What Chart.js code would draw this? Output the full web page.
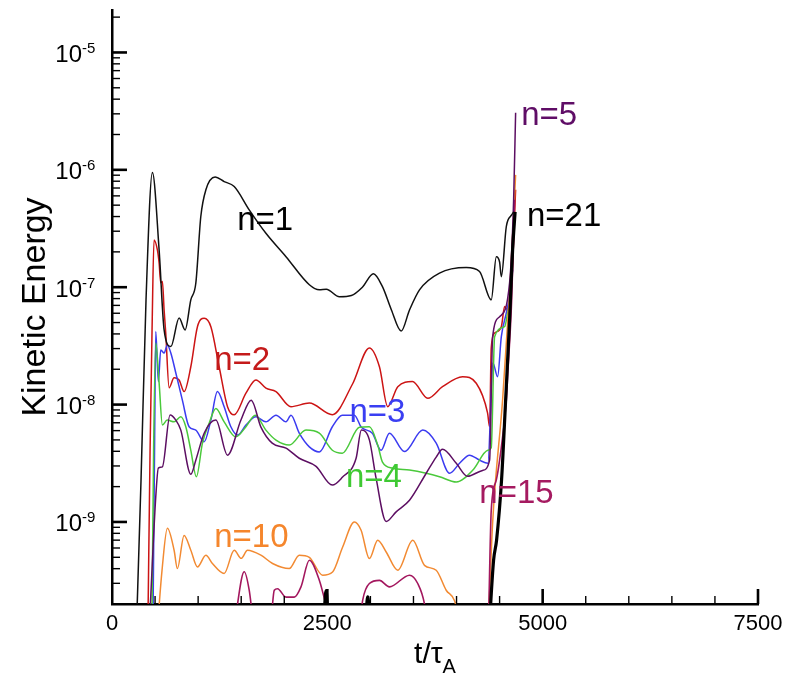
<!DOCTYPE html>
<html><head><meta charset="utf-8">
<script src="https://cdn.jsdelivr.net/npm/chart.js@4.4.1/dist/chart.umd.min.js"></script>
<style>html,body{margin:0;padding:0;background:#fff;overflow:hidden}</style>
</head><body>
<canvas id="c" width="799" height="676"></canvas>
<script>
// ---- data (t / tau_A, kinetic energy) ----
const n1T = [280,337,395,469,547,605,683,779,849,915,973,1031,1090,1198,1302,1419,1593,1787,2020,2291,2407,2488,2640,2779,2907,3035,3140,3244,3357,3454,3570,3802,4113,4267,4403,4462,4500,4520,4578,4640,4663];
const n1E = [1e-10,2.28e-9,7.8e-8,9.5e-7,2.08e-7,4.33e-8,3.12e-8,5.47e-8,4.33e-8,7.8e-8,1.08e-7,4.0e-7,6.76e-7,8.67e-7,7.94e-7,7.21e-7,4.56e-7,2.88e-7,1.82e-7,1.05e-7,9.5e-8,9.6e-8,8.3e-8,8.5e-8,1.0e-7,1.3e-7,1.01e-7,6.4e-8,4.23e-8,6.4e-8,9.5e-8,1.32e-7,1.47e-7,1.36e-7,7.8e-8,1.82e-7,1.64e-7,1.23e-7,3.29e-7,4.13e-7,4.38e-7];

const n2T = [419,442,465,488,527,547,566,585,605,624,663,721,779,837,915,992,1070,1148,1244,1341,1419,1555,1671,1787,1904,2078,2291,2558,2791,2988,3105,3201,3318,3488,3666,3837,4070,4229,4360,4384,4403,4442,4520,4558,4593,4636,4686];
const n2E = [1.77e-10,4.1e-9,4.33e-8,2.53e-7,2.08e-7,1.61e-7,1.09e-7,1.12e-7,6.4e-8,4.07e-8,1.39e-8,1.69e-8,1.62e-8,1.29e-8,2.1e-8,4.61e-8,5.44e-8,4.61e-8,2.1e-8,9.6e-9,8.18e-9,1.25e-8,1.62e-8,1.38e-8,1.29e-8,9.6e-9,1.03e-8,8.2e-9,1.49e-8,3.04e-8,2.1e-8,9.6e-9,1.42e-8,1.57e-8,1.13e-8,1.42e-8,1.73e-8,1.52e-8,8.5e-9,6.46e-9,3.04e-8,4.07e-8,4.61e-8,6.84e-8,6.4e-8,9.5e-8,6.76e-7];

const n3T = [477,494,508,538,566,605,643,683,741,817,895,973,1070,1148,1224,1302,1380,1457,1555,1671,1787,1904,2020,2078,2174,2291,2407,2558,2674,2814,2895,3023,3124,3221,3396,3608,3764,3919,4035,4151,4267,4364,4422,4477,4520,4578,4628,4651];
const n3E = [1.77e-10,4.1e-9,4.19e-8,1.57e-8,2.92e-8,2.75e-8,3.22e-8,2.75e-8,1.86e-8,1.09e-8,6.47e-9,6.06e-9,4.82e-9,7.38e-9,1.29e-8,9.58e-9,6.47e-9,5.5e-9,6.68e-9,7.87e-9,7.13e-9,8.13e-9,7.13e-9,8.13e-9,5.7e-9,4.36e-9,3.95e-9,6.47e-9,8.13e-9,8.13e-9,6.4e-9,5.7e-9,4.08e-9,5.7e-9,3.98e-9,6.06e-9,4.69e-9,2.6e-9,3.16e-9,3.71e-9,3.36e-9,3.16e-9,2.26e-8,1.73e-8,3.79e-8,6.04e-8,9.5e-8,1.41e-7];

const n4T = [465,483,508,547,585,640,721,799,857,915,980,1050,1128,1206,1302,1438,1555,1663,1787,1904,2058,2252,2407,2558,2674,2872,2988,3085,3140,3260,3454,3648,3802,3997,4190,4364,4403,4442,4558,4593,4628];
const n4E = [1.77e-10,4.1e-9,3.35e-8,1.53e-8,6.7e-9,7.38e-9,7.13e-9,7.87e-9,6.47e-9,4.08e-9,2.43e-9,4.69e-9,6.94e-9,9.25e-9,7.13e-9,5.31e-9,6.47e-9,8.13e-9,6.06e-9,4.98e-9,4.52e-9,6.06e-9,5.7e-9,4.08e-9,3.85e-9,6.4e-9,6.47e-9,4.52e-9,3.24e-9,2.87e-9,2.77e-9,2.6e-9,2.43e-9,2.19e-9,2.77e-9,4.08e-9,4.3e-9,3.79e-8,4.61e-8,6.04e-8,7.8e-8];

const n5T = [442,508,538,585,674,741,799,915,973,1070,1206,1341,1497,1616,1729,1860,2020,2174,2369,2558,2674,2834,2895,2988,3066,3183,3299,3454,3648,3764,3837,3997,4128,4302,4384,4419,4500,4616,4663,4686];
const n5E = [1.77e-10,1.63e-9,2.88e-9,2.95e-9,8.15e-9,7.38e-9,6.06e-9,2.55e-9,3.36e-9,5.7e-9,7.38e-9,3.71e-9,7.38e-9,1.09e-8,6.43e-9,4.69e-9,4.25e-9,3.49e-9,2.98e-9,2.06e-9,2.4e-9,3.49e-9,6.06e-9,5.0e-9,2.36e-9,1.01e-9,1.22e-9,1.53e-9,2.6e-9,3.57e-9,4.16e-9,3.16e-9,2.45e-9,2.75e-9,3.36e-9,3.77e-8,5.6e-8,1.09e-7,5.55e-7,3.06e-6];

const n10T = [535,581,643,721,759,837,915,992,1090,1166,1302,1419,1500,1573,1729,1864,2058,2174,2291,2445,2561,2678,2814,2892,2988,3085,3183,3318,3492,3628,3764,3880,3977,4035,4200,4372,4419,4535,4620,4686];
const n10E = [1.5e-10,3.89e-10,8.83e-10,5.74e-10,4.01e-10,7.67e-10,5.74e-10,4.14e-10,5.21e-10,4.43e-10,3.64e-10,5.74e-10,4.9e-10,5.74e-10,5.21e-10,4.43e-10,4.01e-10,5.21e-10,5.0e-10,3.52e-10,3.75e-10,6.12e-10,1.0e-9,8.5e-10,4.88e-10,6.98e-10,5.55e-10,3.88e-10,6.98e-10,4.27e-10,3.88e-10,2.62e-10,2.13e-10,1.4e-10,null,1.5e-10,9.8e-10,1.1e-8,1.0e-7,9.06e-7];

const n15T = [1430,1535,1593,1634,1750,1849,1884,1922,2020,2116,2194,2291,2407,2488,2520,2700,2884,2910,2988,3105,3221,3454,3550,3628,3650,4000,4372,4403,4462,4500,4578,4593,4640,4674];
const n15E = [1.5e-10,3.77e-10,2.62e-10,1.5e-10,null,1.5e-10,2.62e-10,2.7e-10,2.29e-10,2.29e-10,2.8e-10,4.72e-10,3.18e-10,1.9e-10,1.5e-10,null,1.5e-10,2.15e-10,2.99e-10,3.18e-10,2.8e-10,3.52e-10,2.99e-10,2.0e-10,1.5e-10,null,1.5e-10,1.26e-9,2.28e-9,3.36e-9,1.09e-8,1.73e-8,7.8e-8,5.55e-7];

const n21T = [2460,2485,2510,2700,2945,2969,2993,3500,4372,4430,4465,4523,4570,4616,4651,4680];
const n21E = [1.5e-10,2.6e-10,1.5e-10,null,1.5e-10,2.3e-10,1.5e-10,null,1e-10,4.7e-10,7.0e-10,2.3e-9,1.09e-8,5.26e-8,2.08e-7,4.38e-7];

// curve labels
const labelTexts = ['n=1','n=2','n=3','n=4','n=5','n=10','n=15','n=21'];
const labelT = [1453,1186,2756,2716,4751,1186,4264,4818];
const labelE = [3.08e-7,1.97e-8,7.14e-9,2.0e-9,2.42e-6,6.15e-10,1.44e-9,3.33e-7];

// axes
const xTickValues = [0,2500,5000,7500];
const xTickLabels = ['0','2500','5000','7500'];
const yTickExponents = [-9,-8,-7,-6,-5];
const xMin = 0, xMax = 7500, yMin = 2.0e-10, yMax = 2.3e-5;

// ---- styles ----
const FONT = '"Liberation Sans", Arial, Helvetica, sans-serif';
const labelColors = ['#000000','#c41a1a','#3a3ef2','#3fc933','#5f0d66','#f5862c','#a51a60','#000000'];

function pts(T, E) { return T.map((t, i) => ({ x: t, y: E[i] })); }
function ds(label, T, E, color, w) {
  return { label, data: pts(T, E), borderColor: color, borderWidth: w, pointRadius: 0,
           fill: false, cubicInterpolationMode: 'monotone', spanGaps: false };
}

const datasets = [
  ds('n=21', n21T, n21E, '#000000', 3.2),
  ds('n=1', n1T, n1E, '#111111', 1.5),
  ds('n=5', n5T, n5E, '#5c0e62', 1.5),
  ds('n=15', n15T, n15E, '#a3175e', 1.6),
  ds('n=10', n10T, n10E, '#f28a32', 1.5),
  ds('n=4', n4T, n4E, '#4ac93b', 1.5),
  ds('n=3', n3T, n3E, '#3b3bf0', 1.5),
  ds('n=2', n2T, n2E, '#cc1414', 1.5)
];

const decor = {
  id: 'decor',
  afterDatasetsDraw(chart) {
    const { ctx, chartArea: a, scales: { x, y } } = chart;
    ctx.save();
    ctx.strokeStyle = '#000';
    ctx.fillStyle = '#000';
    // y tick marks (inward), minor for 2..9
    for (let k = -10; k <= -5; k++) {
      for (let m = 1; m <= 9; m++) {
        const v = m * Math.pow(10, k);
        if (v < yMin * 0.999 || v > yMax) continue;
        const py = y.getPixelForValue(v);
        const major = (m === 1);
        ctx.lineWidth = major ? 2.6 : 1.4;
        ctx.beginPath();
        ctx.moveTo(a.left, py);
        ctx.lineTo(a.left + (major ? 15 : 8), py);
        ctx.stroke();
      }
    }
    // x tick marks (inward)
    for (let v = xMin + 500; v <= xMax; v += 500) {
      const px = x.getPixelForValue(v);
      const major = (v % 2500 === 0);
      ctx.lineWidth = major ? 2.6 : 1.4;
      ctx.beginPath();
      ctx.moveTo(px, a.bottom);
      ctx.lineTo(px, a.bottom - (major ? 15 : 8));
      ctx.stroke();
    }
    // y tick labels 10^e
    yTickExponents.forEach(e => {
      const py = y.getPixelForValue(Math.pow(10, e));
      ctx.font = '24px ' + FONT;
      ctx.textAlign = 'right';
      ctx.textBaseline = 'alphabetic';
      ctx.fillText('10', a.left - 30, py + 9.5);
      ctx.font = '15px ' + FONT;
      ctx.textAlign = 'left';
      ctx.fillText(String(e), a.left - 30, py + 0.5);
    });
    // x tick labels
    ctx.font = '22px ' + FONT;
    ctx.textAlign = 'center';
    ctx.textBaseline = 'alphabetic';
    xTickValues.forEach((v, i) => {
      ctx.fillText(xTickLabels[i], x.getPixelForValue(v), a.bottom + 26);
    });
    // x title t/tau_A
    ctx.font = '30px ' + FONT;
    const w1 = ctx.measureText('t/τ').width;
    ctx.font = '20px ' + FONT;
    const w2 = ctx.measureText('A').width;
    const cx = (a.left + a.right) / 2;
    const sx = cx - (w1 + w2) / 2;
    ctx.textAlign = 'left';
    ctx.font = '30px ' + FONT;
    ctx.fillText('t/τ', sx, a.bottom + 59);
    ctx.font = '20px ' + FONT;
    ctx.fillText('A', sx + w1, a.bottom + 69);
    // y title
    ctx.save();
    ctx.translate(45, (a.top + a.bottom) / 2);
    ctx.rotate(-Math.PI / 2);
    ctx.font = '34px ' + FONT;
    ctx.textAlign = 'center';
    ctx.textBaseline = 'alphabetic';
    ctx.fillText('Kinetic Energy', 0, 0);
    ctx.restore();
    // curve labels
    ctx.font = '33px ' + FONT;
    ctx.textAlign = 'left';
    ctx.textBaseline = 'alphabetic';
    labelTexts.forEach((t, i) => {
      ctx.fillStyle = labelColors[i];
      ctx.fillText(t, x.getPixelForValue(labelT[i]), y.getPixelForValue(labelE[i]));
    });
    ctx.restore();
  }
};

new Chart(document.getElementById('c'), {
  type: 'line',
  data: { datasets },
  options: {
    responsive: false,
    animation: false,
    devicePixelRatio: 1,
    layout: { padding: { left: 0, right: 41, top: 10, bottom: 0 } },
    plugins: { legend: { display: false }, tooltip: { enabled: false } },
    scales: {
      x: {
        type: 'linear', min: xMin, max: xMax, position: 'bottom',
        grid: { display: false },
        ticks: { display: false },
        border: { display: true, color: '#000', width: 2.5 },
        afterFit(s) { s.height = 72; }
      },
      y: {
        type: 'logarithmic', min: yMin, max: yMax, position: 'left',
        grid: { display: false },
        ticks: { display: false },
        border: { display: true, color: '#000', width: 2.5 },
        afterFit(s) { s.width = 112; }
      }
    }
  },
  plugins: [decor]
});
</script>
</body></html>
